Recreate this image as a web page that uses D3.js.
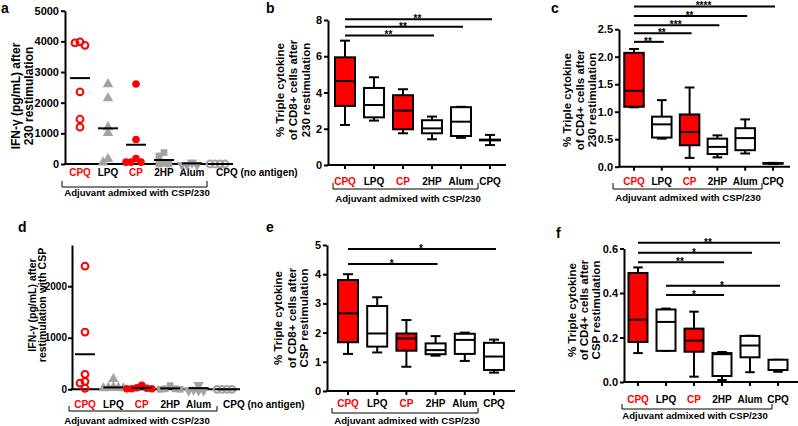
<!DOCTYPE html>
<html><head><meta charset="utf-8">
<script src="https://cdn.jsdelivr.net/npm/d3@7/dist/d3.min.js"></script>
<style>
body{margin:0;background:#fff}
svg{display:block}
text{font-family:"Liberation Sans",Arial,sans-serif;font-weight:bold}
</style>
</head><body>
<svg id="chart" width="798" height="426"></svg>
<script>
// ---------------- DATA ----------------
const boxCategories = ["CPQ","LPQ","CP","2HP","Alum","CPQ"];
const scatterCategories = ["CPQ","LPQ","CP","2HP","Alum","CPQ (no antigen)"];
const redCategoryIndex = [0, 2];
const groupTitle = "Adjuvant admixed with CSP/230";

// Panel a: IFN-γ after 230 restimulation (pg/mL)
const aTicks = [0, 1000, 2000, 3000, 4000, 5000];
const aCPQ  = [3980, 3950, 3870, 2350, 1200, 1460];
const aLPQ  = [2570, 2110, 1170, 980, 20, 130];
const aCP   = [2610, 800, 60, 60, 60, 180];
const a2HP  = [0, 0, 20, 260, 370];
const aAlum = [0, 0, 0, 80];
const aNoAg = [0, 0, 0, 0];

// Panel d: IFN-γ after CSP restimulation (pg/mL)
const dTicks = [0, 1000, 2000];
const dCPQ  = [2390, 1110, 290, 150, 120, 20];
const dLPQ  = [180, 20, 10, 0, 0, 10];
const dCP   = [10, 10, 20, 30, 80, 10];
const d2HP  = [0, 0, 10, 10, 70];
const dAlum = [100, 0, 0, 0, 10];
const dNoAg = [0, 0, 0, 0];

// Box panels: [min, q1, median, q3, max] per category
const bTicks = [0, 2, 4, 6, 8];
const bBoxes = [[2.21,3.26,4.63,5.94,6.86],[2.45,2.63,3.31,4.25,4.84],[1.75,1.97,3.0,3.85,4.18],
                [1.42,1.75,2.02,2.47,2.67],[1.50,1.60,2.39,3.19,3.21],[1.10,1.36,1.38,1.40,1.66]];
const bSig = [[0,5,"**"],[0,4,"**"],[0,3,"**"]];

const cTicks = [0, 0.5, 1.0, 1.5, 2.0, 2.5];
const cBoxes = [[1.08,1.09,1.38,2.07,2.14],[0.51,0.53,0.77,0.91,1.21],[0.16,0.39,0.63,0.95,1.44],
                [0.17,0.23,0.36,0.51,0.57],[0.24,0.30,0.52,0.70,0.86],[0.05,0.055,0.06,0.065,0.07]];
const cSig = [[0,5,"****"],[0,4,"**"],[0,3,"***"],[0,2,"**"],[0,1,"**"]];

const eTicks = [0, 1, 2, 3, 4, 5];
const eBoxes = [[1.27,1.67,2.66,3.80,4.0],[1.32,1.52,1.97,2.91,3.21],[0.83,1.38,1.80,1.97,2.43],
                [1.21,1.26,1.40,1.63,1.88],[1.03,1.27,1.75,1.96,2.0],[0.63,0.72,1.18,1.65,1.76]];
const eSig = [[0,5,"*"],[0,3,"*"]];

const fTicks = [0, 0.2, 0.4, 0.6];
const fBoxes = [[0.13,0.18,0.28,0.49,0.515],[0.14,0.14,0.27,0.326,0.33],[0.024,0.136,0.186,0.24,0.316],
                [0.009,0.027,0.125,0.13,0.135],[0.044,0.111,0.164,0.207,0.208],[0.046,0.054,0.054,0.10,0.10]];
const fSig = [[0,5,"**"],[0,4,"*"],[0,3,"**"],[1,5,"*"],[1,3,"*"]];

// ---------------- LAYOUT ----------------
const RED = "#ff0000", GRAY = "#a2a2a2";
const FONT = '"Liberation Sans",Arial,sans-serif';
const svg = d3.select("#chart");

function frame(p) {
  const g = svg.append("g");
  const y = d3.scaleLinear().domain([0, p.ymax]).range([p.y0, p.yTop]);
  const x = d3.scalePoint().domain(d3.range(6)).range([p.cat0, p.cat0 + 5 * p.step]);

  const ya = g.append("g").attr("transform", `translate(${p.axisX},0)`)
    .call(d3.axisLeft(y).tickValues(p.ticks).tickSize(4).tickSizeOuter(0).tickPadding(p.tickPad || 2).tickFormat(p.fmt));
  ya.attr("font-family", FONT).attr("font-size", p.tickSize || 11).attr("font-weight", "bold");
  ya.select(".domain").attr("stroke", "#000").attr("stroke-width", 2);
  ya.selectAll(".tick line").attr("stroke", "#000").attr("stroke-width", 2);
  ya.selectAll(".tick text").attr("fill", "#000");

  g.append("line").attr("x1", p.axisX - 1).attr("x2", p.x1).attr("y1", p.y0).attr("y2", p.y0)
    .attr("stroke", "#000").attr("stroke-width", 2);

  if (p.xticks) {
    g.selectAll(".xt").data(d3.range(6)).join("line")
      .attr("x1", i => x(i)).attr("x2", i => x(i)).attr("y1", p.y0).attr("y2", p.y0 + 4)
      .attr("stroke", "#000").attr("stroke-width", 2);
  }
  const labels = p.labels;
  g.selectAll(".xl").data(labels).join("text")
    .attr("x", (d, i) => (i === 5 && p.lastStart) ? x(i) - 4 : x(i))
    .attr("y", p.labelY).attr("dy", "0.35em")
    .attr("text-anchor", (d, i) => (i === 5 && p.lastStart) ? "start" : "middle")
    .attr("font-size", 10)
    .attr("fill", (d, i) => redCategoryIndex.includes(i) ? RED : "#000")
    .text(d => d);

  const [bx0, bx1, by0, by1] = p.bracket;
  g.append("path").attr("d", `M${bx0},${by0}V${by1}H${bx1}V${by0}`)
    .attr("fill", "none").attr("stroke", "#000").attr("stroke-width", 1);
  g.append("text").attr("x", p.titleX).attr("y", p.titleY).attr("dy", "0.35em")
    .attr("text-anchor", "middle").attr("font-size", 9.6).text(groupTitle);

  p.ylabel.forEach((t, k) => {
    g.append("text").attr("transform", `translate(${p.ylabelX[k]},${p.ylabelY}) rotate(-90)`)
      .attr("text-anchor", "middle").attr("dy", "0.35em").attr("font-size", p.ylabelSize).text(t);
  });
  g.append("text").attr("x", p.letter[0]).attr("y", p.letter[1]).attr("font-size", 14).text(p.letterText);
  return { g, x, y };
}

function boxes(p, data, sig) {
  const { g, x, y } = frame(p);
  const bw = p.bw, cw = bw / 2;
  const line = (x1, y1, x2, y2) => g.append("line").attr("x1", x1).attr("y1", y1).attr("x2", x2).attr("y2", y2)
    .attr("stroke", "#000").attr("stroke-width", 2);
  data.forEach((b, i) => {
    const cx = x(i);
    const [mn, q1, md, q3, mx] = b;
    line(cx, y(mx), cx, y(q3));
    line(cx, y(q1), cx, y(mn));
    line(cx - cw / 2, y(mx), cx + cw / 2, y(mx));
    line(cx - cw / 2, y(mn), cx + cw / 2, y(mn));
    g.append("rect").attr("x", cx - bw / 2).attr("y", y(q3)).attr("width", bw)
      .attr("height", Math.max(0.5, y(q1) - y(q3)))
      .attr("fill", redCategoryIndex.includes(i) ? RED : "#fff").attr("stroke", "#000").attr("stroke-width", 2);
    line(cx - bw / 2, y(md), cx + bw / 2, y(md));
  });
  sig.forEach((s, k) => {
    const [a, b, lab] = s;
    const yy = y(p.sigLevels[k]);
    line(x(a), yy, x(b) + 2, yy);
    g.append("text").attr("x", (x(a) + x(b)) / 2).attr("y", yy + 3).attr("text-anchor", "middle")
      .attr("font-size", 10).text(lab);
  });
}

const symbolTypes = ["openCircle", "triangle", "circle", "square", "triangleDown", "openCircleGray"];
function scatter(p, groups) {
  const { g, x, y } = frame(p);
  const dd = 5;
  groups.forEach((vals, i) => {
    const cx = x(i);
    const pts = vals.map(v => ({ v, py: y(v) })).sort((a, b) => b.v - a.v);
    const placed = [];
    pts.forEach(pt => {
      let off = 0;
      for (let k = 0; k < 20; k++) {
        const cand = k === 0 ? 0 : (k % 2 ? -1 : 1) * Math.ceil(k / 2) * dd;
        const ok = placed.every(q => Math.hypot(q.px - cand, q.py - pt.py) >= dd - 0.01);
        if (ok) { off = cand; break; }
      }
      pt.px = off; placed.push(pt);
    });
    const type = symbolTypes[i];
    placed.forEach(pt => {
      const px = cx + pt.px, py = pt.py;
      if (type === "openCircle" || type === "openCircleGray") {
        g.append("circle").attr("cx", px).attr("cy", py).attr("r", 3.4).attr("fill", "none")
          .attr("stroke", type === "openCircle" ? RED : GRAY).attr("stroke-width", 2);
      } else if (type === "circle") {
        g.append("circle").attr("cx", px).attr("cy", py).attr("r", 3.8).attr("fill", RED);
      } else if (type === "triangle") {
        g.append("path").attr("d", d3.symbol(d3.symbolTriangle, 48)()).attr("transform", `translate(${px},${py - 1})`).attr("fill", GRAY);
      } else if (type === "triangleDown") {
        g.append("path").attr("d", d3.symbol(d3.symbolTriangle, 48)()).attr("transform", `translate(${px},${py + 1}) rotate(180)`).attr("fill", GRAY);
      } else if (type === "square") {
        g.append("path").attr("d", d3.symbol(d3.symbolSquare, 46)()).attr("transform", `translate(${px},${py})`).attr("fill", GRAY);
      }
    });
    const m = d3.mean(vals);
    g.append("line").attr("x1", cx - 10).attr("x2", cx + 10).attr("y1", y(m)).attr("y2", y(m))
      .attr("stroke", "#000").attr("stroke-width", 2);
  });
}

const fmt0 = d3.format("d"), fmt1 = d3.format(".1f");

scatter({
  axisX: 65, x1: 233, y0: 164, yTop: 10.7, ymax: 5000, ticks: aTicks, fmt: fmt0,
  cat0: 80, step: 28, labels: scatterCategories, lastStart: true, labelY: 172.5,
  bracket: [62, 207, 181, 187], titleX: 137, titleY: 193,
  ylabel: ["IFN-γ (pg/mL) after", "230 restimulation"], ylabelX: [15.5, 29], ylabelY: 96, ylabelSize: 12,
  letter: [1, 13], letterText: "a"
}, [aCPQ, aLPQ, aCP, a2HP, aAlum, aNoAg]);

scatter({
  axisX: 72, x1: 240, y0: 389.3, yTop: 245, ymax: 2800, ticks: dTicks, fmt: fmt0, tickSize: 10, tickPad: 1,
  cat0: 85, step: 28.4, labels: scatterCategories, lastStart: true, labelY: 404,
  bracket: [69, 217, 406, 411], titleX: 137, titleY: 421,
  ylabel: ["IFN-γ (pg/mL) after", "restimulation with CSP"], ylabelX: [32, 42.5], ylabelY: 305, ylabelSize: 10.5,
  letter: [18, 232], letterText: "d"
}, [dCPQ, dLPQ, dCP, d2HP, dAlum, dNoAg]);

boxes({
  axisX: 328, x1: 506, y0: 165, yTop: 20, ymax: 8, ticks: bTicks, fmt: fmt0, xticks: true,
  cat0: 345, step: 29, labels: boxCategories, labelY: 181.5, bw: 20,
  bracket: [333, 478, 183, 189], titleX: 408, titleY: 199,
  ylabel: ["% Triple cytokine", "of CD8+ cells after", "230 restimulation"], ylabelX: [280, 293, 305.5], ylabelY: 90, ylabelSize: 11.5,
  letter: [266, 13], letterText: "b", sigLevels: [8.04, 7.63, 7.15]
}, bBoxes, bSig);

boxes({
  axisX: 619, x1: 790, y0: 166.7, yTop: 29.2, ymax: 2.5, ticks: cTicks, fmt: fmt1, xticks: true,
  cat0: 634, step: 27.8, labels: boxCategories, labelY: 181.7, bw: 19.5,
  bracket: [613, 762, 183, 189], titleX: 688, titleY: 197.5,
  ylabel: ["% Triple cytokine", "of CD4+ cells after", "230 restimulation"], ylabelX: [566.7, 579.5, 592], ylabelY: 100, ylabelSize: 11.5,
  letter: [551, 13], letterText: "c", sigLevels: [2.915, 2.74, 2.57, 2.425, 2.27]
}, cBoxes, cSig);

boxes({
  axisX: 327, x1: 515, y0: 391, yTop: 245, ymax: 5, ticks: eTicks, fmt: fmt0, xticks: true,
  cat0: 348, step: 29.2, labels: boxCategories, labelY: 403.3, bw: 20,
  bracket: [332, 478, 408, 413], titleX: 407, titleY: 420.7,
  ylabel: ["% Triple cytokine", "of CD8+ cells after", "CSP restimulation"], ylabelX: [278.3, 291.5, 303.5], ylabelY: 318, ylabelSize: 11.5,
  letter: [266, 232], letterText: "e", sigLevels: [4.86, 4.35]
}, eBoxes, eSig);

boxes({
  axisX: 624, x1: 798, y0: 382, yTop: 248.5, ymax: 0.6, ticks: fTicks, fmt: fmt1, xticks: true,
  cat0: 638, step: 28, labels: boxCategories, labelY: 399.3, bw: 19,
  bracket: [622, 772, 404, 409], titleX: 695, titleY: 415.7,
  ylabel: ["% Triple cytokine", "of CD4+ cells after", "CSP restimulation"], ylabelX: [571.7, 583.5, 595.5], ylabelY: 310, ylabelSize: 11.5,
  letter: [556, 238.3], letterText: "f", sigLevels: [0.626, 0.581, 0.538, 0.433, 0.391]
}, fBoxes, fSig);
</script>
</body></html>
